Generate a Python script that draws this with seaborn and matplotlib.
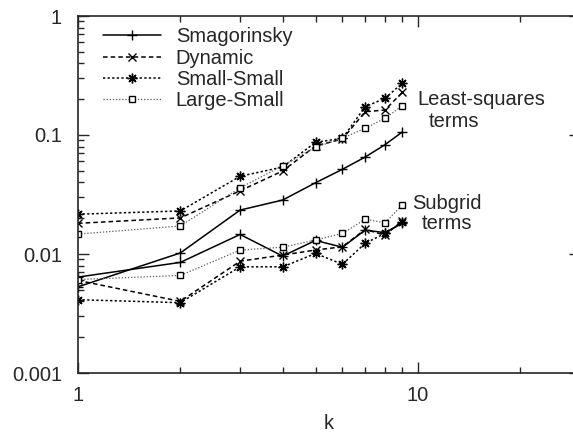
import matplotlib
matplotlib.use("Agg")
import matplotlib.pyplot as plt
import pandas as pd
import seaborn as sns
from matplotlib.ticker import LogLocator, NullFormatter, FixedFormatter, FixedLocator

k = [1, 2, 3, 4, 5, 6, 7, 8, 9]

# least-squares terms
smag_ls = [0.0053, 0.0102, 0.0234, 0.0284, 0.0397, 0.0515, 0.0653, 0.0828, 0.106]
dyn_ls = [0.0181, 0.0201, 0.034, 0.0498, 0.081, 0.0925, 0.157, 0.162, 0.228]
ss_ls = [0.0216, 0.023, 0.045, 0.0538, 0.0868, 0.0938, 0.173, 0.203, 0.272]
ls_ls = [0.0147, 0.0172, 0.036, 0.0552, 0.079, 0.0938, 0.114, 0.138, 0.176]

# subgrid terms
smag_sg = [0.0064, 0.0085, 0.0146, 0.0096, 0.0130, 0.0114, 0.0159, 0.0151, 0.0181]
dyn_sg = [0.0060, 0.0040, 0.0087, 0.0098, 0.0108, 0.0115, 0.0161, 0.0144, 0.0190]
ss_sg = [0.00413, 0.0039, 0.0078, 0.0078, 0.0101, 0.0082, 0.0123, 0.0149, 0.0185]
ls_sg = [0.0061, 0.0066, 0.0108, 0.0114, 0.0131, 0.0149, 0.0196, 0.0183, 0.0258]

names = ["Smagorinsky", "Dynamic", "Small-Small", "Large-Small"]

sns.set_style("ticks")
plt.rcParams["font.family"] = ["Liberation Sans", "DejaVu Sans"]
FS = 14.5
plt.rcParams["font.size"] = FS

styles = {
    "Smagorinsky": dict(linestyle="-", marker="+", markersize=7, lw=1.1),
    "Dynamic": dict(linestyle=(0, (3, 2)), marker="x", markersize=6, lw=1.1),
    "Small-Small": dict(linestyle=(0, (1.5, 1.5)), marker=(8, 2, 0), markersize=7, lw=1.1),
    "Large-Small": dict(linestyle=(0, (1, 1.5)), marker="s", markersize=5,
                        markerfacecolor="white", lw=0.9),
}

fig = plt.figure(figsize=(5.73, 4.36), dpi=100)
ax = fig.add_axes([78 / 573, 1 - 373 / 436, (580 - 78) / 573, (373 - 16) / 436])

ls_vals = [smag_ls, dyn_ls, ss_ls, ls_ls]
sg_vals = [smag_sg, dyn_sg, ss_sg, ls_sg]
for name, yl, ys in zip(names, ls_vals, sg_vals):
    st = styles[name]
    col = "0.35" if name == "Large-Small" else "black"
    df = pd.DataFrame({"k": k, "ls": yl, "sg": ys})
    sns.lineplot(data=df, x="k", y="ls", ax=ax, color=col, label=name,
                 markeredgecolor="black", markeredgewidth=1.0, **st)
    sns.lineplot(data=df, x="k", y="sg", ax=ax, color=col,
                 markeredgecolor="black", markeredgewidth=1.0, **st)
    if name == "Large-Small":
        # small dot inside the open squares
        for col_y in ("ls", "sg"):
            sns.scatterplot(data=df, x="k", y=col_y, ax=ax, color="black",
                            s=2, marker="s", linewidth=0, legend=False)

ax.set_xscale("log")
ax.set_yscale("log")
ax.set_xlim(1, 30)
ax.set_ylim(0.001, 1)

ax.xaxis.set_major_locator(FixedLocator([1, 10]))
ax.xaxis.set_major_formatter(FixedFormatter(["1", "10"]))
ax.xaxis.set_minor_locator(LogLocator(base=10, subs=range(2, 10)))
ax.xaxis.set_minor_formatter(NullFormatter())
ax.yaxis.set_major_locator(FixedLocator([0.001, 0.01, 0.1, 1]))
ax.yaxis.set_major_formatter(FixedFormatter(["0.001", "0.01", "0.1", "1"]))
ax.yaxis.set_minor_locator(LogLocator(base=10, subs=range(2, 10)))
ax.yaxis.set_minor_formatter(NullFormatter())

ax.tick_params(which="both", direction="in", top=True, right=True, labelsize=FS, width=1.0)
ax.tick_params(which="major", length=8)
ax.tick_params(axis="y", which="major", pad=11.5)
ax.tick_params(axis="x", which="major", pad=9)
ax.tick_params(which="minor", length=4)
for s in ax.spines.values():
    s.set_linewidth(1.2)

ax.set_xlabel("k", fontsize=FS, labelpad=7)
ax.set_ylabel("")

ax.text(9.94, 0.197, "Least-squares", fontsize=FS, va="center", ha="left")
ax.text(10.8, 0.131, "terms", fontsize=FS, va="center", ha="left")
ax.text(9.6, 0.0268, "Subgrid", fontsize=FS, va="center", ha="left")
ax.text(10.3, 0.0182, "terms", fontsize=FS, va="center", ha="left")

ax.legend(loc="upper left", frameon=False, fontsize=FS, handlelength=2.85,
          handletextpad=0.75, labelspacing=0.12, numpoints=1,
          bbox_to_anchor=(0.022, 1.008), borderaxespad=0.3)

fig.savefig("out.png", dpi=100)
